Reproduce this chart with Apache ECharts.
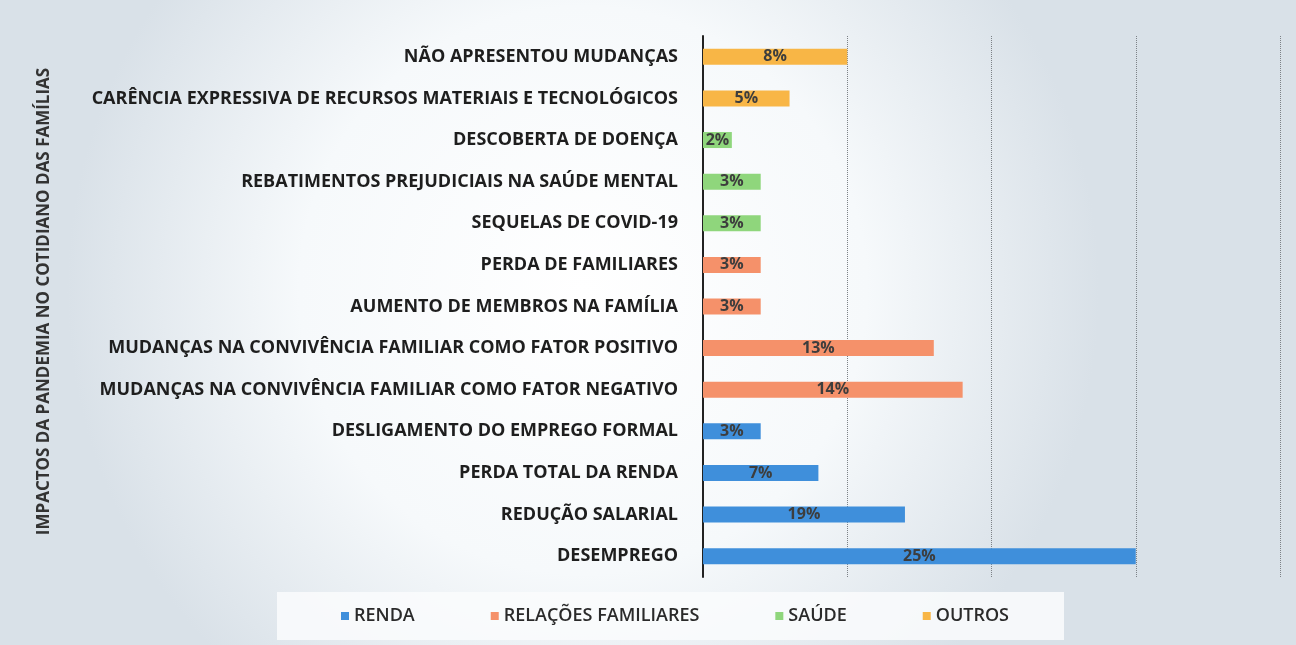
<!DOCTYPE html>
<html>
<head>
<meta charset="utf-8">
<script src="https://cdn.jsdelivr.net/npm/echarts@6/dist/echarts.min.js"></script>
<style>
  html, body { margin: 0; padding: 0; }
  #chart { width: 1296px; height: 645px; }
</style>
</head>
<body>
<div id="chart"></div>
<script>
// top to bottom, as in the picture
const categories = [
  'NÃO APRESENTOU MUDANÇAS',
  'CARÊNCIA EXPRESSIVA DE RECURSOS MATERIAIS E TECNOLÓGICOS',
  'DESCOBERTA DE DOENÇA',
  'REBATIMENTOS PREJUDICIAIS NA SAÚDE MENTAL',
  'SEQUELAS DE COVID-19',
  'PERDA DE FAMILIARES',
  'AUMENTO DE MEMBROS NA FAMÍLIA',
  'MUDANÇAS NA CONVIVÊNCIA FAMILIAR COMO FATOR POSITIVO',
  'MUDANÇAS NA CONVIVÊNCIA FAMILIAR COMO FATOR NEGATIVO',
  'DESLIGAMENTO DO EMPREGO FORMAL',
  'PERDA TOTAL DA RENDA',
  'REDUÇÃO SALARIAL',
  'DESEMPREGO'
];
// bar lengths (counts)
const counts = [5, 3, 1, 2, 2, 2, 2, 8, 9, 2, 4, 7, 15];
// printed labels
const pctLabels = ['8%', '5%', '2%', '3%', '3%', '3%', '3%', '13%', '14%', '3%', '7%', '19%', '25%'];
const groupOf = [3, 3, 2, 2, 2, 1, 1, 1, 1, 0, 0, 0, 0];
const groups = ['RENDA', 'RELAÇÕES FAMILIARES', 'SAÚDE', 'OUTROS'];
const colors = ['#3f8fdb', '#f5916a', '#8fd67c', '#f8b646'];

const font = 'Open Sans';

const series = groups.map((g, gi) => ({
  name: g,
  type: 'bar',
  stack: 'all',
  barWidth: 16,
  itemStyle: { color: colors[gi] },
  label: {
    show: true,
    position: 'inside',
    color: '#3d3d3d',
    fontWeight: 'bold',
    fontSize: 16,
    fontFamily: font,
    formatter: p => pctLabels[p.dataIndex]
  },
  data: counts.map((v, i) => (groupOf[i] === gi ? v : null))
}));

const chart = echarts.init(document.getElementById('chart'));
chart.setOption({
  backgroundColor: {
    type: 'radial', x: 0.45, y: 0.45, r: 0.8,
    colorStops: [
      { offset: 0, color: '#ffffff' },
      { offset: 0.55, color: '#f6f9fb' },
      { offset: 1, color: '#d9e1e8' }
    ]
  },
  textStyle: { fontFamily: font },
  animation: false,
  grid: { left: 703, right: 16, top: 36, bottom: 68 },
  legend: {
    bottom: 5,
    left: 277,
    icon: 'rect',
    itemWidth: 8,
    itemHeight: 8,
    itemGap: 76,
    padding: [15, 55, 15, 64],
    backgroundColor: 'rgba(250,252,253,0.85)',
    textStyle: { fontSize: 18, fontWeight: 600, color: '#2a2a2a', fontFamily: font }
  },
  xAxis: {
    type: 'value',
    min: 0,
    max: 20,
    interval: 5,
    axisLabel: { show: false },
    axisLine: { show: false },
    axisTick: { show: false },
    splitLine: { lineStyle: { color: '#7d8287', type: 'dotted', width: 1 } }
  },
  yAxis: {
    type: 'category',
    inverse: true,
    data: categories,
    name: 'IMPACTOS DA PANDEMIA NO COTIDIANO DAS FAMÍLIAS',
    nameLocation: 'middle',
    nameRotate: 90,
    nameGap: 650,
    nameTextStyle: { fontSize: 17, fontWeight: 'bold', color: '#333', fontFamily: font, padding: [0, 0, 0, 10] },
    axisLine: { show: true, lineStyle: { color: '#222', width: 2 } },
    axisTick: { show: false },
    axisLabel: { fontSize: 18, color: '#1e1e1e', margin: 25, fontFamily: font, fontWeight: 'bold' }
  },
  series: series
});
</script>
</body>
</html>
